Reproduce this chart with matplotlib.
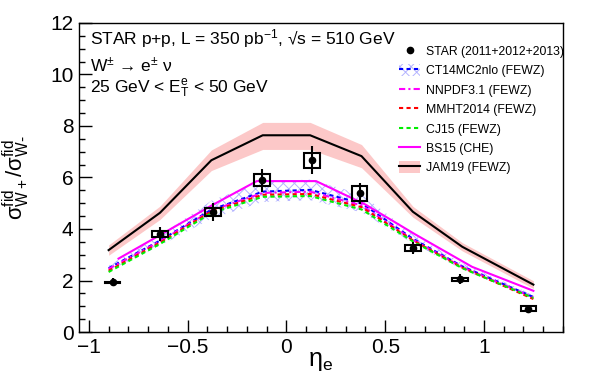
import matplotlib
matplotlib.use('Agg')
import matplotlib.pyplot as plt
from matplotlib.lines import Line2D
from matplotlib.patches import Patch, Rectangle
import numpy as np

plt.rcParams['font.family'] = ['Liberation Sans', 'DejaVu Sans']
plt.rcParams['mathtext.fontset'] = 'custom'
plt.rcParams['mathtext.rm'] = 'Liberation Sans'
plt.rcParams['mathtext.it'] = 'Liberation Sans:italic'
plt.rcParams['hatch.linewidth'] = 0.7

# STAR data
star_eta = [-0.88, -0.64, -0.37, -0.125, 0.13, 0.37, 0.64, 0.88, 1.225]
star_val = [1.93, 3.82, 4.66, 5.89, 6.67, 5.38, 3.27, 2.05, 0.91]
star_stat = [0.16, 0.27, 0.34, 0.45, 0.55, 0.42, 0.23, 0.19, 0.10]
star_sys = [0.03, 0.12, 0.14, 0.23, 0.29, 0.29, 0.11, 0.06, 0.10]

# theory
theory_eta = [-0.90, -0.64, -0.38, -0.12, 0.12, 0.38, 0.64, 0.89, 1.25]
ct14 = [2.48, 3.55, 4.75, 5.45, 5.52, 5.00, 3.62, 2.55, 1.36]
ct14_err = [0.10, 0.20, 0.35, 0.40, 0.40, 0.35, 0.18, 0.12, 0.08]
nnpdf = [2.45, 3.52, 4.72, 5.40, 5.45, 4.92, 3.58, 2.52, 1.34]
mmht = [2.38, 3.47, 4.68, 5.33, 5.36, 4.85, 3.56, 2.50, 1.28]
cj15 = [2.33, 3.42, 4.62, 5.25, 5.28, 4.76, 3.52, 2.48, 1.32]
jam = [3.18, 4.63, 6.67, 7.64, 7.64, 6.83, 4.67, 3.31, 1.84]
jam_up = [0.20, 0.26, 0.40, 0.50, 0.50, 0.45, 0.21, 0.16, 0.15]
jam_dn = [0.20, 0.26, 0.40, 0.55, 0.55, 0.45, 0.21, 0.16, 0.15]
bs15_eta = [-0.85, -0.62, -0.37, -0.15, 0.15, 0.40, 0.65, 0.94, 1.25]
bs15 = [2.85, 3.85, 4.95, 5.86, 5.86, 4.95, 3.80, 2.53, 1.60]

W, H = 600, 385
fig = plt.figure(figsize=(6, 3.85), dpi=100)
ax = fig.add_axes([79 / W, 1 - 332 / H, (563 - 79) / W, (332 - 23) / H])

eta = np.array(theory_eta)
jam_a = np.array(jam)
ct_a = np.array(ct14)
ax.fill_between(eta, jam_a - np.array(jam_dn), jam_a + np.array(jam_up), color='#fcc8c8', lw=0, zorder=1)
ax.fill_between(eta, ct_a - np.array(ct14_err), ct_a + np.array(ct14_err), facecolor='none',
                edgecolor='#b4b4ff', hatch='xxx', lw=0, zorder=1)

dash = (0, (2.0, 1.6))
ax.plot(theory_eta, ct14, color='#0000ff', lw=1.5, ls=dash, zorder=3)
ax.plot(theory_eta, nnpdf, color='#ff00ff', lw=1.5, ls=(0, (3, 1.5, 1, 1.5)), zorder=3)
ax.plot(theory_eta, mmht, color='#ff0000', lw=1.5, ls=dash, zorder=3)
ax.plot(theory_eta, cj15, color='#00ee00', lw=1.5, ls=dash, zorder=3)
ax.plot(bs15_eta, bs15, color='#ff00ff', lw=1.5, zorder=3)
ax.plot(theory_eta, jam, color='black', lw=1.5, zorder=3)

# systematic boxes
for x, y, s in zip(star_eta, star_val, star_sys):
    ax.add_patch(Rectangle((x - 0.04, y - s), 0.08, 2 * s, fill=False, ec='black', lw=1.5, zorder=4))
ax.errorbar(star_eta, star_val, yerr=star_stat, fmt='o', color='black', ms=4.5, elinewidth=1.5,
            capsize=0, zorder=5)

ax.set_xlim(-1.05, 1.4)
ax.set_ylim(0, 12)
ax.set_xticks([-1, -0.5, 0, 0.5, 1])
ax.set_xticklabels(['\u22121', '\u22120.5', '0', '0.5', '1'])
ax.set_xticks(np.arange(-1.0, 1.41, 0.1), minor=True)
ax.set_yticks(range(0, 13, 2))
ax.set_yticks(np.arange(0, 12.1, 0.5), minor=True)
ax.tick_params(which='both', direction='in', top=False, right=False, labelsize=15, width=1)
ax.tick_params(which='major', length=9, pad=4)
ax.tick_params(which='minor', length=4.5)
for sp in ax.spines.values():
    sp.set_linewidth(1)

ax.set_ylabel(r'$\mathrm{\sigma^{fid}_{W+}/\sigma^{fid}_{W\text{-}}}$', fontsize=16)
ax.yaxis.set_label_coords(-0.097, 0.5)
ax.set_xlabel(r'$\mathrm{\eta_e}$', fontsize=18, va='center')
ax.xaxis.set_label_coords(0.5, -0.095)

fig.text(90 / W, 1 - 39 / H, 'STAR p+p, L = 350 pb$^{-1}$, \u221as = 510 GeV', fontsize=12.5, va='center')
fig.text(90 / W, 1 - 65 / H, 'W$^{\\pm}$ \u2192 e$^{\\pm}$ \u03bd', fontsize=12.5, va='center')
fig.text(90 / W, 1 - 89 / H, r'25 GeV < E$\mathrm{^{e}_{T}}$ < 50 GeV', fontsize=12.5, va='center')

handles = [
    Line2D([], [], marker='o', color='black', ms=4.5, ls='none'),
    (Patch(facecolor='none', edgecolor='#b4b4ff', hatch='xxx', lw=0),
     Line2D([], [], color='#0000ff', lw=1.5, ls=dash)),
    Line2D([], [], color='#ff00ff', lw=1.5, ls=(0, (3, 1.5, 1, 1.5))),
    Line2D([], [], color='#ff0000', lw=1.5, ls=dash),
    Line2D([], [], color='#00ee00', lw=1.5, ls=dash),
    Line2D([], [], color='#ff00ff', lw=1.5),
    (Patch(facecolor='#fcc8c8', lw=0), Line2D([], [], color='black', lw=1.5)),
]
labels = ['STAR (2011+2012+2013)', 'CT14MC2nlo (FEWZ)', 'NNPDF3.1 (FEWZ)', 'MMHT2014 (FEWZ)',
          'CJ15 (FEWZ)', 'BS15 (CHE)', 'JAM19 (FEWZ)']
ax.legend(handles, labels, loc='upper left', bbox_to_anchor=(399 / W, 1 - 45 / H),
          bbox_transform=fig.transFigure, frameon=False, fontsize=8.8, borderpad=0,
          borderaxespad=0, handlelength=1.75, handleheight=1.1, handletextpad=0.45,
          labelspacing=0.52)

plt.savefig('out.png', dpi=100)
plt.close()
